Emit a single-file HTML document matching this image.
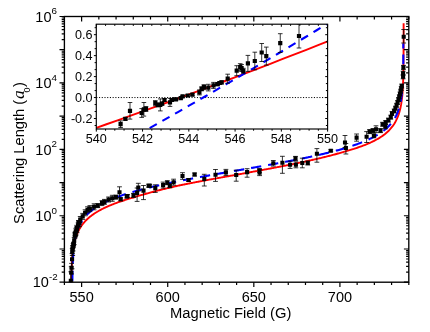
<!DOCTYPE html>
<html><head><meta charset="utf-8"><title>Scattering Length vs Magnetic Field</title>
<style>html,body{margin:0;padding:0;background:#fff;font-family:"Liberation Sans",sans-serif}</style></head>
<body>
<svg width="430" height="332" viewBox="0 0 430 332" style="display:block;will-change:transform">
<rect width="430" height="332" fill="#fff"/>
<defs><clipPath id="cm"><rect x="64.4" y="16.5" width="344.4" height="265.7"/></clipPath><clipPath id="ci"><rect x="96.3" y="24.2" width="231.3" height="104.8"/></clipPath></defs>
<g clip-path="url(#cm)" fill="none">
<path d="M71.22,291.93 L71.23,290.60 L71.25,289.28 L71.26,287.95 L71.27,286.62 L71.29,285.29 L71.30,283.96 L71.32,282.63 L71.34,281.30 L71.36,279.97 L71.39,278.64 L71.42,277.31 L71.44,275.98 L71.48,274.65 L71.51,273.32 L71.55,271.99 L71.59,270.66 L71.64,269.33 L71.69,268.00 L71.74,266.67 L71.80,265.34 L71.87,264.01 L71.94,262.68 L71.95,262.55 L72.02,261.35 L72.11,260.01 L72.20,258.68 L72.31,257.35 L72.42,256.02 L72.55,254.68 L72.69,253.35 L72.78,252.52 L73.61,246.64 L74.44,242.45 L75.27,239.20 L76.10,236.54 L76.94,234.28 L77.77,232.32 L78.60,230.59 L79.43,229.03 L80.26,227.62 L81.09,226.33 L81.92,225.14 L82.75,224.04 L83.59,223.01 L84.42,222.04 L85.25,221.13 L86.08,220.27 L86.91,219.46 L87.74,218.68 L88.57,217.94 L89.40,217.24 L90.24,216.56 L91.07,215.91 L91.90,215.28 L92.73,214.68 L93.56,214.10 L94.39,213.54 L95.22,213.00 L96.05,212.47 L96.89,211.96 L97.72,211.47 L98.55,210.99 L99.38,210.52 L100.21,210.06 L101.04,209.62 L101.87,209.19 L102.71,208.76 L103.54,208.35 L104.37,207.95 L105.20,207.55 L106.03,207.17 L106.86,206.79 L107.69,206.42 L108.52,206.06 L109.36,205.70 L110.19,205.36 L111.02,205.01 L111.85,204.68 L112.68,204.35 L113.51,204.02 L114.34,203.70 L115.17,203.39 L116.01,203.08 L116.84,202.78 L117.67,202.48 L118.50,202.18 L119.33,201.89 L120.16,201.60 L120.99,201.32 L121.82,201.04 L122.66,200.77 L123.49,200.50 L124.32,200.23 L125.15,199.96 L125.98,199.70 L126.81,199.45 L127.64,199.19 L128.48,198.94 L129.31,198.69 L130.14,198.44 L130.97,198.20 L131.80,197.96 L132.63,197.72 L133.46,197.48 L134.29,197.22 L135.13,196.96 L135.96,196.70 L136.79,196.44 L137.62,196.19 L138.45,195.94 L139.28,195.69 L140.11,195.44 L140.94,195.20 L141.78,194.96 L142.61,194.72 L143.44,194.48 L144.27,194.24 L145.10,194.01 L145.93,193.77 L146.76,193.54 L147.60,193.31 L148.43,193.08 L149.26,192.85 L150.09,192.63 L150.92,192.40 L151.75,192.18 L152.58,191.96 L153.41,191.74 L154.25,191.52 L155.08,191.30 L155.91,191.09 L156.74,190.87 L157.57,190.66 L158.40,190.45 L159.23,190.24 L160.06,190.03 L160.90,189.82 L161.73,189.61 L162.56,189.40 L163.39,189.20 L164.22,188.99 L165.05,188.79 L165.88,188.59 L166.71,188.39 L167.55,188.19 L168.38,187.99 L169.21,187.79 L170.04,187.59 L170.87,187.39 L171.70,187.20 L172.53,187.00 L173.37,186.81 L174.20,186.61 L175.03,186.42 L175.86,186.23 L176.69,186.04 L177.52,185.85 L178.35,185.66 L179.18,185.47 L180.02,185.29 L180.85,185.12 L181.68,184.95 L182.51,184.78 L183.34,184.62 L184.17,184.45 L185.00,184.28 L185.83,184.12 L186.67,183.96 L187.50,183.79 L188.33,183.63 L189.16,183.47 L189.99,183.30 L190.82,183.14 L191.65,182.98 L192.48,182.82 L193.32,182.66 L194.15,182.50 L194.98,182.34 L195.81,182.18 L196.64,182.02 L197.47,181.86 L198.30,181.71 L199.14,181.55 L199.97,181.39 L200.80,181.24 L201.63,181.08 L202.46,180.92 L203.29,180.77 L204.12,180.61 L204.95,180.46 L205.79,180.30 L206.62,180.15 L207.45,179.99 L208.28,179.84 L209.11,179.69 L209.94,179.53 L210.77,179.38 L211.60,179.23 L212.44,179.08 L213.27,178.92 L214.10,178.77 L214.93,178.62 L215.76,178.47 L216.59,178.32 L217.42,178.16 L218.26,178.01 L219.09,177.86 L219.92,177.71 L220.75,177.56 L221.58,177.41 L222.41,177.26 L223.24,177.11 L224.07,176.96 L224.91,176.81 L225.74,176.66 L226.57,176.51 L227.40,176.36 L228.23,176.21 L229.06,176.06 L229.89,175.91 L230.72,175.76 L231.56,175.61 L232.39,175.46 L233.22,175.31 L234.05,175.17 L234.88,175.02 L235.71,174.87 L236.54,174.72 L237.37,174.57 L238.21,174.42 L239.04,174.26 L239.87,174.11 L240.70,173.96 L241.53,173.81 L242.36,173.66 L243.19,173.51 L244.03,173.36 L244.86,173.21 L245.69,173.05 L246.52,172.90 L247.35,172.75 L248.18,172.60 L249.01,172.45 L249.84,172.30 L250.68,172.14 L251.51,171.99 L252.34,171.84 L253.17,171.69 L254.00,171.54 L254.83,171.38 L255.66,171.23 L256.49,171.08 L257.33,170.92 L258.16,170.77 L258.99,170.62 L259.82,170.46 L260.65,170.31 L261.48,170.16 L262.31,170.00 L263.15,169.85 L263.98,169.69 L264.81,169.54 L265.64,169.38 L266.47,169.23 L267.30,169.07 L268.13,168.92 L268.96,168.76 L269.80,168.60 L270.63,168.45 L271.46,168.29 L272.29,168.13 L273.12,167.97 L273.95,167.82 L274.78,167.66 L275.61,167.50 L276.45,167.34 L277.28,167.18 L278.11,167.02 L278.94,166.86 L279.77,166.70 L280.60,166.54 L281.43,166.38 L282.26,166.21 L283.10,166.05 L283.93,165.89 L284.76,165.72 L285.59,165.56 L286.42,165.40 L287.25,165.23 L288.08,165.07 L288.92,164.90 L289.75,164.73 L290.58,164.57 L291.41,164.40 L292.24,164.23 L293.07,164.06 L293.90,163.89 L294.73,163.72 L295.57,163.55 L296.40,163.38 L297.23,163.21 L298.06,163.04 L298.89,162.86 L299.72,162.69 L300.55,162.51 L301.38,162.34 L302.22,162.16 L303.05,161.98 L303.88,161.81 L304.71,161.63 L305.54,161.45 L306.37,161.27 L307.20,161.09 L308.03,160.90 L308.87,160.72 L309.70,160.54 L310.53,160.35 L311.36,160.17 L312.19,159.98 L313.02,159.79 L313.85,159.60 L314.69,159.41 L315.52,159.22 L316.35,159.03 L317.18,158.83 L318.01,158.64 L318.84,158.44 L319.67,158.25 L320.50,158.05 L321.34,157.85 L322.17,157.65 L323.00,157.45 L323.83,157.24 L324.66,157.04 L325.49,156.83 L326.32,156.62 L327.15,156.41 L327.99,156.20 L328.82,155.99 L329.65,155.78 L330.48,155.56 L331.31,155.34 L332.14,155.12 L332.97,154.90 L333.81,154.68 L334.64,154.46 L335.47,154.23 L336.30,154.00 L337.13,153.77 L337.96,153.54 L338.79,153.30 L339.62,153.06 L340.46,152.82 L341.29,152.58 L342.12,152.34 L342.95,152.09 L343.78,151.84 L344.61,151.59 L345.44,151.33 L346.27,151.08 L347.11,150.83 L347.94,150.59 L348.77,150.35 L349.60,150.11 L350.43,149.87 L351.26,149.62 L352.09,149.37 L352.92,149.11 L353.76,148.86 L354.59,148.59 L355.42,148.33 L356.25,148.06 L357.08,147.78 L357.91,147.50 L358.74,147.22 L359.58,146.93 L360.41,146.64 L361.24,146.34 L362.07,146.04 L362.90,145.73 L363.73,145.41 L364.56,145.09 L365.39,144.76 L366.23,144.43 L367.06,144.08 L367.89,143.74 L368.72,143.38 L369.55,143.01 L370.38,142.64 L371.21,142.26 L372.04,141.87 L372.88,141.47 L373.71,141.06 L374.54,140.63 L375.37,140.20 L376.20,139.75 L377.03,139.29 L377.86,138.82 L378.69,138.33 L379.53,137.83 L380.36,137.31 L381.19,136.77 L382.02,136.21 L382.85,135.63 L383.68,135.02 L384.51,134.39 L385.35,133.73 L386.18,133.02 L387.01,132.29 L387.84,131.52 L388.67,130.71 L389.50,129.85 L390.33,128.95 L391.16,127.99 L392.00,126.96 L392.83,125.86 L393.66,124.68 L394.49,123.40 L395.32,121.99 L396.15,120.44 L396.98,118.71 L397.81,116.76 L398.65,114.51 L399.48,111.85 L400.31,108.60 L401.14,104.42 L401.97,98.54 L402.06,97.72 L402.20,96.38 L402.33,95.05 L402.44,93.72 L402.55,92.39 L402.64,91.06 L402.73,89.72 L402.80,88.52 L402.81,88.39 L402.88,87.06 L402.95,85.73 L403.01,84.40 L403.06,83.07 L403.11,81.74 L403.16,80.41 L403.20,79.08 L403.24,77.75 L403.27,76.42 L403.31,75.09 L403.33,73.76 L403.36,72.43 L403.39,71.10 L403.41,69.77 L403.43,68.44 L403.45,67.11 L403.46,65.79 L403.48,64.46 L403.49,63.13 L403.50,61.80 L403.51,60.47 L403.53,59.14 L403.53,57.81 L403.54,56.48 L403.55,55.15 L403.56,53.83 L403.57,52.50 L403.57,51.17 L403.58,49.84 L403.58,48.51 L403.59,47.18 L403.59,45.85 L403.59,44.53 L403.60,43.20 L403.60,41.87 L403.60,40.54 L403.61,39.21 L403.61,37.88 L403.61,36.55 L403.61,35.22 L403.62,33.90 L403.62,32.57 L403.62,31.24 L403.62,29.91 L403.62,28.58 L403.62,27.25 L403.62,25.93 L403.62,24.60 L403.62,23.27" stroke="#f00" stroke-width="1.9"/>
<path d="M72.31,291.39 L72.32,290.06 L72.33,288.73 L72.33,287.40 L72.34,286.07 L72.35,284.74 L72.37,283.41 L72.38,282.09 L72.39,280.76 L72.41,279.43 L72.42,278.10 L72.44,276.77 L72.46,275.44 L72.48,274.11 L72.51,272.78 L72.53,271.45 L72.56,270.12 L72.59,268.79 L72.63,267.46 L72.67,266.13 L72.71,264.80 L72.76,263.47 L72.81,262.14 L72.86,260.81 L72.92,259.48 L72.99,258.15 L73.06,256.81 L73.06,256.74 L73.14,255.48 L73.23,254.15 L73.32,252.82 L73.43,251.48 L73.54,250.15 L73.67,248.82 L73.81,247.48 L73.89,246.71 L74.72,240.83 L75.55,236.64 L76.38,233.39 L77.20,230.72 L78.03,228.46 L78.86,226.50 L79.69,224.76 L80.52,223.20 L81.34,221.79 L82.17,220.50 L83.00,219.31 L83.83,218.20 L84.66,217.17 L85.48,216.20 L86.31,215.29 L87.14,214.43 L87.97,213.61 L88.80,212.83 L89.62,212.09 L90.45,211.38 L91.28,210.70 L92.11,210.05 L92.94,209.42 L93.76,208.82 L94.59,208.24 L95.42,207.67 L96.25,207.13 L97.08,206.60 L97.91,206.09 L98.73,205.59 L99.56,205.11 L100.39,204.64 L101.22,204.18 L102.05,203.73 L102.87,203.30 L103.70,202.87 L104.53,202.46 L105.36,202.05 L106.19,201.66 L107.01,201.27 L107.84,200.89 L108.67,200.52 L109.50,200.15 L110.33,199.80 L111.15,199.45 L111.98,199.10 L112.81,198.76 L113.64,198.43 L114.47,198.10 L115.29,197.78 L116.12,197.46 L116.95,197.15 L117.78,196.85 L118.61,196.55 L119.44,196.25 L120.26,195.96 L121.09,195.67 L121.92,195.38 L122.75,195.10 L123.58,194.82 L124.40,194.55 L125.23,194.28 L126.06,194.01 L126.89,193.75 L127.72,193.49 L128.54,193.23 L129.37,192.98 L130.20,192.73 L131.03,192.48 L131.86,192.23 L132.68,191.99 L133.51,191.75 L134.34,191.51 L135.17,191.28 L136.00,191.04 L136.82,190.81 L137.65,190.58 L138.48,190.36 L139.31,190.13 L140.14,189.91 L140.96,189.69 L141.79,189.47 L142.62,189.26 L143.45,189.04 L144.28,188.83 L145.11,188.62 L145.93,188.41 L146.76,188.20 L147.59,187.99 L148.42,187.79 L149.25,187.59 L150.07,187.39 L150.90,187.19 L151.73,186.99 L152.56,186.79 L153.39,186.60 L154.21,186.40 L155.04,186.21 L155.87,186.02 L156.70,185.83 L157.53,185.64 L158.35,185.45 L159.18,185.26 L160.01,185.08 L160.84,184.89 L161.67,184.71 L162.49,184.53 L163.32,184.34 L164.15,184.16 L164.98,183.98 L165.81,183.81 L166.63,183.63 L167.46,183.45 L168.29,183.28 L169.12,183.10 L169.95,182.93 L170.78,182.76 L171.60,182.58 L172.43,182.41 L173.26,182.24 L174.09,182.07 L174.92,181.90 L175.74,181.73 L176.57,181.57 L177.40,181.40 L178.23,181.23 L179.06,181.07 L179.88,180.90 L180.71,180.74 L181.54,180.58 L182.37,180.41 L183.20,180.25 L184.02,180.09 L184.85,179.93 L185.68,179.77 L186.51,179.61 L187.34,179.45 L188.16,179.29 L188.99,179.13 L189.82,178.97 L190.65,178.82 L191.48,178.66 L192.30,178.50 L193.13,178.35 L193.96,178.19 L194.79,178.04 L195.62,177.88 L196.45,177.73 L197.27,177.58 L198.10,177.42 L198.93,177.27 L199.76,177.12 L200.59,176.97 L201.41,176.81 L202.24,176.66 L203.07,176.51 L203.90,176.36 L204.73,176.21 L205.55,176.06 L206.38,175.91 L207.21,175.76 L208.04,175.61 L208.87,175.46 L209.69,175.31 L210.52,175.17 L211.35,175.02 L212.18,174.87 L213.01,174.72 L213.83,174.57 L214.66,174.43 L215.49,174.28 L216.32,174.13 L217.15,173.99 L217.97,173.84 L218.80,173.69 L219.63,173.55 L220.46,173.40 L221.29,173.26 L222.12,173.11 L222.94,172.97 L223.77,172.82 L224.60,172.67 L225.43,172.53 L226.26,172.38 L227.08,172.24 L227.91,172.09 L228.74,171.95 L229.57,171.81 L230.40,171.66 L231.22,171.52 L232.05,171.37 L232.88,171.23 L233.71,171.08 L234.54,170.94 L235.36,170.79 L236.19,170.65 L237.02,170.51 L237.85,170.36 L238.68,170.22 L239.50,170.07 L240.33,169.93 L241.16,169.78 L241.99,169.64 L242.82,169.50 L243.64,169.35 L244.47,169.21 L245.30,169.06 L246.13,168.92 L246.96,168.77 L247.79,168.63 L248.61,168.48 L249.44,168.34 L250.27,168.19 L251.10,168.05 L251.93,167.90 L252.75,167.76 L253.58,167.61 L254.41,167.47 L255.24,167.32 L256.07,167.18 L256.89,167.03 L257.72,166.88 L258.55,166.74 L259.38,166.59 L260.21,166.44 L261.03,166.30 L261.86,166.15 L262.69,166.00 L263.52,165.85 L264.35,165.71 L265.17,165.56 L266.00,165.41 L266.83,165.26 L267.66,165.11 L268.49,164.96 L269.31,164.81 L270.14,164.66 L270.97,164.51 L271.80,164.36 L272.63,164.21 L273.46,164.06 L274.28,163.91 L275.11,163.76 L275.94,163.61 L276.77,163.45 L277.60,163.30 L278.42,163.15 L279.25,162.99 L280.08,162.84 L280.91,162.69 L281.74,162.53 L282.56,162.37 L283.39,162.22 L284.22,162.06 L285.05,161.91 L285.88,161.75 L286.70,161.59 L287.53,161.43 L288.36,161.27 L289.19,161.11 L290.02,160.95 L290.84,160.79 L291.67,160.63 L292.50,160.47 L293.33,160.31 L294.16,160.15 L294.98,159.98 L295.81,159.82 L296.64,159.65 L297.47,159.49 L298.30,159.32 L299.13,159.16 L299.95,158.99 L300.78,158.82 L301.61,158.65 L302.44,158.48 L303.27,158.31 L304.09,158.14 L304.92,157.97 L305.75,157.80 L306.58,157.62 L307.41,157.45 L308.23,157.27 L309.06,157.09 L309.89,156.92 L310.72,156.74 L311.55,156.56 L312.37,156.38 L313.20,156.20 L314.03,156.02 L314.86,155.83 L315.69,155.65 L316.51,155.46 L317.34,155.27 L318.17,155.09 L319.00,154.90 L319.83,154.71 L320.66,154.52 L321.48,154.32 L322.31,154.13 L323.14,153.93 L323.97,153.74 L324.80,153.54 L325.62,153.34 L326.45,153.14 L327.28,152.93 L328.11,152.73 L328.94,152.52 L329.76,152.32 L330.59,152.11 L331.42,151.89 L332.25,151.68 L333.08,151.47 L333.90,151.25 L334.73,151.03 L335.56,150.81 L336.39,150.59 L337.22,150.37 L338.04,150.14 L338.87,149.91 L339.70,149.68 L340.53,149.45 L341.36,149.21 L342.18,148.97 L343.01,148.73 L343.84,148.49 L344.67,148.24 L345.50,148.00 L346.33,147.74 L347.15,147.49 L347.98,147.23 L348.81,146.97 L349.64,146.71 L350.47,146.44 L351.29,146.17 L352.12,145.90 L352.95,145.62 L353.78,145.34 L354.61,145.06 L355.43,144.77 L356.26,144.48 L357.09,144.18 L357.92,143.88 L358.75,143.57 L359.57,143.26 L360.40,142.94 L361.23,142.62 L362.06,142.29 L362.89,141.96 L363.71,141.62 L364.54,141.28 L365.37,140.93 L366.20,140.57 L367.03,140.20 L367.85,139.83 L368.68,139.45 L369.51,139.07 L370.34,138.67 L371.17,138.26 L372.00,137.85 L372.82,137.42 L373.65,136.99 L374.48,136.54 L375.31,136.09 L376.14,135.62 L376.96,135.13 L377.79,134.64 L378.62,134.12 L379.45,133.60 L380.28,133.05 L381.10,132.49 L381.93,131.91 L382.76,131.30 L383.59,130.67 L384.42,130.02 L385.24,129.34 L386.07,128.63 L386.90,127.89 L387.73,127.11 L388.56,126.30 L389.38,125.43 L390.21,124.52 L391.04,123.55 L391.87,122.52 L392.70,121.41 L393.52,120.22 L394.35,118.93 L395.18,117.52 L396.01,115.96 L396.84,114.23 L397.67,112.26 L398.49,110.00 L399.32,107.34 L400.15,104.08 L400.98,99.90 L401.81,94.01 L401.89,93.24 L402.03,91.91 L402.16,90.57 L402.27,89.24 L402.38,87.91 L402.47,86.57 L402.56,85.24 L402.63,83.98 L402.64,83.91" stroke="#00f" stroke-width="2.1" stroke-dasharray="10.3,7.0" stroke-dashoffset="7.02"/>
<path d="M403.31,64.2V54.6M403.31,48.6V43.6" stroke="#00f" stroke-width="2.1"/>
<path d="M78.40,220.50V224.50M76.00,220.50h4.8M76.00,224.50h4.8 M80.20,216.50V222.50M77.80,216.50h4.8M77.80,222.50h4.8 M82.70,213.40V219.40M80.30,213.40h4.8M80.30,219.40h4.8 M85.10,209.80V215.80M82.70,209.80h4.8M82.70,215.80h4.8 M87.50,206.80V212.80M85.10,206.80h4.8M85.10,212.80h4.8 M89.90,205.60V211.60M87.50,205.60h4.8M87.50,211.60h4.8 M94.10,203.80V209.80M91.70,203.80h4.8M91.70,209.80h4.8 M97.80,203.60V207.60M95.40,203.60h4.8M95.40,207.60h4.8 M102.00,200.60V205.60M99.60,200.60h4.8M99.60,205.60h4.8 M104.40,199.40V204.40M102.00,199.40h4.8M102.00,204.40h4.8 M108.60,197.00V202.00M106.20,197.00h4.8M106.20,202.00h4.8 M112.30,195.30V201.30M109.90,195.30h4.8M109.90,201.30h4.8 M115.90,195.10V199.10M113.50,195.10h4.8M113.50,199.10h4.8 M119.50,186.80V197.70M117.10,186.80h4.8M117.10,197.70h4.8 M120.70,197.80V200.80M118.30,197.80h4.8M118.30,200.80h4.8 M126.80,195.00V198.00M124.40,195.00h4.8M124.40,198.00h4.8 M127.40,194.50V197.50M125.00,194.50h4.8M125.00,197.50h4.8 M133.50,193.40V197.40M131.10,193.40h4.8M131.10,197.40h4.8 M137.10,188.00V201.40M134.70,188.00h4.8M134.70,201.40h4.8 M138.30,183.30V191.00M135.90,183.30h4.8M135.90,191.00h4.8 M143.50,185.50V199.60M141.10,185.50h4.8M141.10,199.60h4.8 M148.70,184.20V187.20M146.30,184.20h4.8M146.30,187.20h4.8 M149.70,184.30V187.30M147.30,184.30h4.8M147.30,187.30h4.8 M155.30,184.80V192.40M152.90,184.80h4.8M152.90,192.40h4.8 M163.10,182.10V188.10M160.70,182.10h4.8M160.70,188.10h4.8 M167.30,180.70V184.70M164.90,180.70h4.8M164.90,184.70h4.8 M169.80,183.70V187.70M167.40,183.70h4.8M167.40,187.70h4.8 M173.60,179.20V185.20M171.20,179.20h4.8M171.20,185.20h4.8 M182.50,172.70V179.30M180.10,172.70h4.8M180.10,179.30h4.8 M188.60,178.50V181.50M186.20,178.50h4.8M186.20,181.50h4.8 M194.60,173.00V176.00M192.20,173.00h4.8M192.20,176.00h4.8 M204.30,174.30V186.00M201.90,174.30h4.8M201.90,186.00h4.8 M215.50,169.50V181.40M213.10,169.50h4.8M213.10,181.40h4.8 M225.90,169.40V175.40M223.50,169.40h4.8M223.50,175.40h4.8 M236.20,170.20V181.20M233.80,170.20h4.8M233.80,181.20h4.8 M247.10,168.70V177.20M244.70,168.70h4.8M244.70,177.20h4.8 M259.50,168.60V172.60M257.10,168.60h4.8M257.10,172.60h4.8 M259.60,169.60V175.60M257.20,169.60h4.8M257.20,175.60h4.8 M273.30,160.50V166.10M270.90,160.50h4.8M270.90,166.10h4.8 M282.40,156.30V173.30M280.00,156.30h4.8M280.00,173.30h4.8 M290.10,161.20V168.40M287.70,161.20h4.8M287.70,168.40h4.8 M295.50,156.40V160.40M293.10,156.40h4.8M293.10,160.40h4.8 M295.90,161.80V167.80M293.50,161.80h4.8M293.50,167.80h4.8 M302.30,158.20V167.80M299.90,158.20h4.8M299.90,167.80h4.8 M307.80,161.00V165.00M305.40,161.00h4.8M305.40,165.00h4.8 M316.90,148.60V162.20M314.50,148.60h4.8M314.50,162.20h4.8 M330.80,149.70V151.70M328.40,149.70h4.8M328.40,151.70h4.8 M345.00,135.50V147.50M342.60,135.50h4.8M342.60,147.50h4.8 M345.90,143.50V154.00M343.50,143.50h4.8M343.50,154.00h4.8 M356.60,134.00V141.20M354.20,134.00h4.8M354.20,141.20h4.8 M366.60,131.60V142.50M364.20,131.60h4.8M364.20,142.50h4.8 M369.60,129.60V133.60M367.20,129.60h4.8M367.20,133.60h4.8 M372.90,128.60V132.60M370.50,128.60h4.8M370.50,132.60h4.8 M373.90,133.80V137.80M371.50,133.80h4.8M371.50,137.80h4.8 M376.00,125.80V132.60M373.60,125.80h4.8M373.60,132.60h4.8 M380.50,128.60V132.60M378.10,128.60h4.8M378.10,132.60h4.8 M382.60,122.30V126.30M380.20,122.30h4.8M380.20,126.30h4.8 M385.30,124.80V128.80M382.90,124.80h4.8M382.90,128.80h4.8 M385.70,120.50V124.50M383.30,120.50h4.8M383.30,124.50h4.8 M388.40,118.10V122.10M386.00,118.10h4.8M386.00,122.10h4.8 M390.80,115.10V119.10M388.40,115.10h4.8M388.40,119.10h4.8 M392.00,111.50V115.50M389.60,111.50h4.8M389.60,115.50h4.8 M403.40,65.40V69.40M401.00,65.40h4.8M401.00,69.40h4.8 M403.10,71.20V75.20M400.70,71.20h4.8M400.70,75.20h4.8 M403.10,74.80V78.80M400.70,74.80h4.8M400.70,78.80h4.8 M403.70,29.50V43.00M401.30,29.50h4.8M401.30,43.00h4.8 M394.13,109.00V113.00M391.73,109.00h4.8M391.73,113.00h4.8 M395.42,106.20V110.20M393.02,106.20h4.8M393.02,110.20h4.8 M396.59,103.30V107.30M394.19,103.30h4.8M394.19,107.30h4.8 M397.59,100.50V104.50M395.19,100.50h4.8M395.19,104.50h4.8 M398.50,97.60V101.60M396.10,97.60h4.8M396.10,101.60h4.8 M399.29,94.80V98.80M396.89,94.80h4.8M396.89,98.80h4.8 M400.01,92.00V96.00M397.61,92.00h4.8M397.61,96.00h4.8 M400.66,89.20V93.20M398.26,89.20h4.8M398.26,93.20h4.8 M401.22,86.60V90.60M398.82,86.60h4.8M398.82,90.60h4.8 M401.75,84.00V88.00M399.35,84.00h4.8M399.35,88.00h4.8 M70.82,271.77V295.42M68.42,271.77h4.8M68.42,295.42h4.8 M71.20,266.74V282.04M68.80,266.74h4.8M68.80,282.04h4.8 M71.55,263.39V273.93M69.15,263.39h4.8M69.15,273.93h4.8 M72.08,253.51V268.76M69.68,253.51h4.8M69.68,268.76h4.8 M72.24,248.61V255.31M69.84,248.61h4.8M69.84,255.31h4.8 M72.41,246.04V253.14M70.01,246.04h4.8M70.01,253.14h4.8 M72.74,245.59V255.53M70.34,245.59h4.8M70.34,255.53h4.8 M73.13,243.66V250.93M70.73,243.66h4.8M70.73,250.93h4.8 M73.43,243.95V247.20M71.03,243.95h4.8M71.03,247.20h4.8 M73.58,242.83V245.81M71.18,242.83h4.8M71.18,245.81h4.8 M73.73,242.30V245.17M71.33,242.30h4.8M71.33,245.17h4.8 M74.18,237.43V244.44M71.78,237.43h4.8M71.78,244.44h4.8 M74.85,232.95V238.38M72.45,232.95h4.8M72.45,238.38h4.8 M75.11,232.07V235.41M72.71,232.07h4.8M72.71,235.41h4.8 M75.22,232.42V235.85M72.82,232.42h4.8M72.82,235.85h4.8 M75.34,234.18V236.88M72.94,234.18h4.8M72.94,236.88h4.8 M75.69,228.91V235.79M73.29,228.91h4.8M73.29,235.79h4.8 M76.20,227.85V234.94M73.80,227.85h4.8M73.80,234.94h4.8 M76.71,225.32V231.16M74.31,225.32h4.8M74.31,231.16h4.8 M77.06,226.32V232.68M74.66,226.32h4.8M74.66,232.68h4.8 M78.09,222.92V227.95M75.69,222.92h4.8M75.69,227.95h4.8 M79.49,220.88V226.58M77.09,220.88h4.8M77.09,226.58h4.8" stroke="#000" stroke-width="0.8" fill="none"/><path d="M76.35,220.45h4.1v4.1h-4.1z M78.15,217.45h4.1v4.1h-4.1z M80.65,214.35h4.1v4.1h-4.1z M83.05,210.75h4.1v4.1h-4.1z M85.45,207.75h4.1v4.1h-4.1z M87.85,206.55h4.1v4.1h-4.1z M92.05,204.75h4.1v4.1h-4.1z M95.75,203.55h4.1v4.1h-4.1z M99.95,201.05h4.1v4.1h-4.1z M102.35,199.85h4.1v4.1h-4.1z M106.55,197.45h4.1v4.1h-4.1z M110.25,196.25h4.1v4.1h-4.1z M113.85,195.05h4.1v4.1h-4.1z M117.45,190.25h4.1v4.1h-4.1z M118.65,197.25h4.1v4.1h-4.1z M124.75,194.45h4.1v4.1h-4.1z M125.35,193.95h4.1v4.1h-4.1z M131.45,193.35h4.1v4.1h-4.1z M135.05,190.95h4.1v4.1h-4.1z M136.25,185.45h4.1v4.1h-4.1z M141.45,188.55h4.1v4.1h-4.1z M146.65,183.65h4.1v4.1h-4.1z M147.65,183.75h4.1v4.1h-4.1z M153.25,186.05h4.1v4.1h-4.1z M161.05,183.05h4.1v4.1h-4.1z M165.25,180.65h4.1v4.1h-4.1z M167.75,183.65h4.1v4.1h-4.1z M171.55,180.15h4.1v4.1h-4.1z M180.45,173.95h4.1v4.1h-4.1z M186.55,177.95h4.1v4.1h-4.1z M192.55,172.45h4.1v4.1h-4.1z M202.25,176.95h4.1v4.1h-4.1z M213.45,172.65h4.1v4.1h-4.1z M223.85,170.35h4.1v4.1h-4.1z M234.15,172.95h4.1v4.1h-4.1z M245.05,170.05h4.1v4.1h-4.1z M257.45,168.55h4.1v4.1h-4.1z M257.55,170.55h4.1v4.1h-4.1z M271.25,161.25h4.1v4.1h-4.1z M280.35,160.65h4.1v4.1h-4.1z M288.05,162.75h4.1v4.1h-4.1z M293.45,156.35h4.1v4.1h-4.1z M293.85,162.75h4.1v4.1h-4.1z M300.25,160.95h4.1v4.1h-4.1z M305.75,160.95h4.1v4.1h-4.1z M314.85,151.75h4.1v4.1h-4.1z M328.75,148.65h4.1v4.1h-4.1z M342.95,140.45h4.1v4.1h-4.1z M343.85,145.95h4.1v4.1h-4.1z M354.55,135.55h4.1v4.1h-4.1z M364.55,134.65h4.1v4.1h-4.1z M367.55,129.55h4.1v4.1h-4.1z M370.85,128.55h4.1v4.1h-4.1z M371.85,133.75h4.1v4.1h-4.1z M373.95,127.15h4.1v4.1h-4.1z M378.45,128.55h4.1v4.1h-4.1z M380.55,122.25h4.1v4.1h-4.1z M383.25,124.75h4.1v4.1h-4.1z M383.65,120.45h4.1v4.1h-4.1z M386.35,118.05h4.1v4.1h-4.1z M388.75,115.05h4.1v4.1h-4.1z M389.95,111.45h4.1v4.1h-4.1z M401.35,65.35h4.1v4.1h-4.1z M401.05,71.15h4.1v4.1h-4.1z M401.05,74.75h4.1v4.1h-4.1z M401.65,34.75h4.1v4.1h-4.1z M392.08,108.95h4.1v4.1h-4.1z M393.37,106.15h4.1v4.1h-4.1z M394.54,103.25h4.1v4.1h-4.1z M395.54,100.45h4.1v4.1h-4.1z M396.45,97.55h4.1v4.1h-4.1z M397.24,94.75h4.1v4.1h-4.1z M397.96,91.95h4.1v4.1h-4.1z M398.61,89.15h4.1v4.1h-4.1z M399.17,86.55h4.1v4.1h-4.1z M399.70,83.95h4.1v4.1h-4.1z M68.77,278.69h4.1v4.1h-4.1z M69.15,270.40h4.1v4.1h-4.1z M69.50,265.67h4.1v4.1h-4.1z M70.03,257.16h4.1v4.1h-4.1z M70.19,249.52h4.1v4.1h-4.1z M70.36,247.10h4.1v4.1h-4.1z M70.69,247.67h4.1v4.1h-4.1z M71.08,244.79h4.1v4.1h-4.1z M71.38,243.44h4.1v4.1h-4.1z M71.53,242.19h4.1v4.1h-4.1z M71.68,241.61h4.1v4.1h-4.1z M72.13,238.46h4.1v4.1h-4.1z M72.80,233.36h4.1v4.1h-4.1z M73.06,231.60h4.1v4.1h-4.1z M73.17,231.98h4.1v4.1h-4.1z M73.29,233.42h4.1v4.1h-4.1z M73.64,229.89h4.1v4.1h-4.1z M74.15,228.91h4.1v4.1h-4.1z M74.66,225.90h4.1v4.1h-4.1z M75.01,227.10h4.1v4.1h-4.1z M76.04,223.17h4.1v4.1h-4.1z M77.44,221.40h4.1v4.1h-4.1z" fill="#000" stroke="none"/>
</g>
<rect x="96.3" y="24.2" width="231.3" height="104.8" fill="#fff"/>
<g clip-path="url(#ci)" fill="none">
<line x1="96.3" x2="327.6" y1="97.56" y2="97.56" stroke="#000" stroke-width="1" stroke-dasharray="1.1,1.62"/>
<path d="M93.99,128.66 L105.78,124.50 L117.58,120.32 L129.38,116.11 L141.17,111.88 L152.97,107.62 L164.76,103.33 L176.56,99.02 L188.36,94.67 L200.15,90.31 L211.95,85.91 L223.75,81.49 L235.54,77.04 L247.34,72.56 L259.14,68.06 L270.93,63.53 L282.73,58.98 L294.52,54.39 L306.32,49.78 L318.12,45.15 L329.91,40.49" stroke="#f00" stroke-width="1.9"/>
<path d="M119.43,145.03 L124.75,142.07 L130.07,139.10 L135.39,136.12 L140.71,133.13 L146.03,130.14 L151.35,127.14 L156.67,124.14 L161.99,121.12 L167.31,118.10 L172.63,115.08 L177.95,112.04 L183.27,109.00 L188.59,105.95 L193.91,102.89 L199.23,99.83 L204.55,96.76 L209.87,93.68 L215.19,90.59 L220.51,87.50 L225.83,84.40 L231.15,81.29 L236.47,78.18 L241.79,75.05 L247.11,71.92 L252.43,68.78 L257.75,65.64 L263.07,62.48 L268.39,59.32 L273.71,56.15 L279.03,52.98 L284.35,49.79 L289.67,46.60 L294.99,43.40 L300.31,40.19 L305.63,36.98 L310.95,33.75 L316.27,30.52 L321.59,27.28 L326.91,24.04 L332.23,20.78" stroke="#00f" stroke-width="2.1" stroke-dasharray="8.2,6.4" stroke-dashoffset="9.11"/>
<path d="M120.60,120.90V127.50M118.30,120.90h4.6M118.30,127.50h4.6 M125.40,117.60V120.00M123.10,117.60h4.6M123.10,120.00h4.6 M130.00,102.50V119.10M127.70,102.50h4.6M127.70,119.10h4.6 M141.70,108.60V117.40M139.40,108.60h4.6M139.40,117.40h4.6 M143.90,102.50V116.10M141.60,102.50h4.6M141.60,116.10h4.6 M146.00,106.50V111.50M143.70,106.50h4.6M143.70,111.50h4.6 M155.30,100.60V105.80M153.00,100.60h4.6M153.00,105.80h4.6 M157.90,102.90V106.90M155.60,102.90h4.6M155.60,106.90h4.6 M160.30,98.90V110.90M158.00,98.90h4.6M158.00,110.90h4.6 M162.10,102.10V105.10M159.80,102.10h4.6M159.80,105.10h4.6 M164.50,98.50V101.50M162.20,98.50h4.6M162.20,101.50h4.6 M170.00,98.40V106.40M167.70,98.40h4.6M167.70,106.40h4.6 M171.80,98.50V101.50M169.50,98.50h4.6M169.50,101.50h4.6 M174.20,98.30V100.30M171.90,98.30h4.6M171.90,100.30h4.6 M176.00,98.30V100.30M173.70,98.30h4.6M173.70,100.30h4.6 M180.80,97.10V99.10M178.50,97.10h4.6M178.50,99.10h4.6 M182.60,95.40V97.40M180.30,95.40h4.6M180.30,97.40h4.6 M187.70,94.50V96.50M185.40,94.50h4.6M185.40,96.50h4.6 M192.40,93.70V95.70M190.10,93.70h4.6M190.10,95.70h4.6 M199.40,89.90V94.90M197.10,89.90h4.6M197.10,94.90h4.6 M201.60,86.80V90.80M199.30,86.80h4.6M199.30,90.80h4.6 M203.90,84.70V89.70M201.60,84.70h4.6M201.60,89.70h4.6 M208.30,84.30V90.90M206.00,84.30h4.6M206.00,90.90h4.6 M213.50,82.40V88.40M211.20,82.40h4.6M211.20,88.40h4.6 M217.60,82.70V85.70M215.30,82.70h4.6M215.30,85.70h4.6 M219.60,81.50V84.50M217.30,81.50h4.6M217.30,84.50h4.6 M221.60,80.90V83.90M219.30,80.90h4.6M219.30,83.90h4.6 M227.70,74.20V83.20M225.40,74.20h4.6M225.40,83.20h4.6 M236.70,65.70V75.70M234.40,65.70h4.6M234.40,75.70h4.6 M240.20,63.70V70.70M237.90,63.70h4.6M237.90,70.70h4.6 M241.60,64.50V71.50M239.30,64.50h4.6M239.30,71.50h4.6 M243.30,68.30V73.30M241.00,68.30h4.6M241.00,73.30h4.6 M247.90,55.40V71.40M245.60,55.40h4.6M245.60,71.40h4.6 M254.80,52.20V69.80M252.50,52.20h4.6M252.50,69.80h4.6 M261.70,43.50V61.50M259.40,43.50h4.6M259.40,61.50h4.6 M266.30,47.10V65.10M264.00,47.10h4.6M264.00,65.10h4.6 M280.25,33.70V52.50M277.95,33.70h4.6M277.95,52.50h4.6 M299.00,24.00V48.00M296.70,24.00h4.6M296.70,48.00h4.6" stroke="#000" stroke-width="0.8" fill="none"/><path d="M118.50,122.10h4.2v4.2h-4.2z M123.30,116.70h4.2v4.2h-4.2z M127.90,108.70h4.2v4.2h-4.2z M139.60,110.90h4.2v4.2h-4.2z M141.80,107.20h4.2v4.2h-4.2z M143.90,106.90h4.2v4.2h-4.2z M153.20,101.10h4.2v4.2h-4.2z M155.80,102.80h4.2v4.2h-4.2z M158.20,102.80h4.2v4.2h-4.2z M160.00,101.50h4.2v4.2h-4.2z M162.40,97.90h4.2v4.2h-4.2z M167.90,100.30h4.2v4.2h-4.2z M169.70,97.90h4.2v4.2h-4.2z M172.10,97.20h4.2v4.2h-4.2z M173.90,97.20h4.2v4.2h-4.2z M178.70,96.00h4.2v4.2h-4.2z M180.50,94.30h4.2v4.2h-4.2z M185.60,93.40h4.2v4.2h-4.2z M190.30,92.60h4.2v4.2h-4.2z M197.30,90.30h4.2v4.2h-4.2z M199.50,86.70h4.2v4.2h-4.2z M201.80,85.10h4.2v4.2h-4.2z M206.20,85.50h4.2v4.2h-4.2z M211.40,83.30h4.2v4.2h-4.2z M215.50,82.10h4.2v4.2h-4.2z M217.50,80.90h4.2v4.2h-4.2z M219.50,80.30h4.2v4.2h-4.2z M225.60,76.60h4.2v4.2h-4.2z M234.60,68.60h4.2v4.2h-4.2z M238.10,65.10h4.2v4.2h-4.2z M239.50,65.90h4.2v4.2h-4.2z M241.20,68.70h4.2v4.2h-4.2z M245.80,61.30h4.2v4.2h-4.2z M252.70,58.90h4.2v4.2h-4.2z M259.60,50.40h4.2v4.2h-4.2z M264.20,54.00h4.2v4.2h-4.2z M278.15,41.00h4.2v4.2h-4.2z M296.90,33.90h4.2v4.2h-4.2z" fill="#000" stroke="none"/>
</g>
<rect x="64.4" y="16.5" width="344.4" height="265.7" fill="none" stroke="#000" stroke-width="1.35"/>
<rect x="96.3" y="24.2" width="231.3" height="104.8" fill="none" stroke="#000" stroke-width="1.15"/>
<path d="M64.40,282.2 v2.7 M64.40,16.5 v3.0 M81.62,282.2 v4.8 M81.62,16.5 v5.1 M98.84,282.2 v2.7 M98.84,16.5 v3.0 M116.06,282.2 v2.7 M116.06,16.5 v3.0 M133.28,282.2 v2.7 M133.28,16.5 v3.0 M150.50,282.2 v2.7 M150.50,16.5 v3.0 M167.72,282.2 v4.8 M167.72,16.5 v5.1 M184.94,282.2 v2.7 M184.94,16.5 v3.0 M202.16,282.2 v2.7 M202.16,16.5 v3.0 M219.38,282.2 v2.7 M219.38,16.5 v3.0 M236.60,282.2 v2.7 M236.60,16.5 v3.0 M253.82,282.2 v4.8 M253.82,16.5 v5.1 M271.04,282.2 v2.7 M271.04,16.5 v3.0 M288.26,282.2 v2.7 M288.26,16.5 v3.0 M305.48,282.2 v2.7 M305.48,16.5 v3.0 M322.70,282.2 v2.7 M322.70,16.5 v3.0 M339.92,282.2 v4.8 M339.92,16.5 v5.1 M357.14,282.2 v2.7 M357.14,16.5 v3.0 M374.36,282.2 v2.7 M374.36,16.5 v3.0 M391.58,282.2 v2.7 M391.58,16.5 v3.0 M408.80,282.2 v2.7 M408.80,16.5 v3.0 M64.4,282.20 h-4.9 M408.8,282.20 h-4.9 M64.4,272.20 h-2.7 M408.8,272.20 h-2.7 M64.4,266.35 h-2.7 M408.8,266.35 h-2.7 M64.4,262.20 h-2.7 M408.8,262.20 h-2.7 M64.4,258.99 h-2.7 M408.8,258.99 h-2.7 M64.4,256.36 h-2.7 M408.8,256.36 h-2.7 M64.4,254.13 h-2.7 M408.8,254.13 h-2.7 M64.4,252.21 h-2.7 M408.8,252.21 h-2.7 M64.4,250.51 h-2.7 M408.8,250.51 h-2.7 M64.4,248.99 h-4.9 M408.8,248.99 h-4.9 M64.4,238.99 h-2.7 M408.8,238.99 h-2.7 M64.4,233.14 h-2.7 M408.8,233.14 h-2.7 M64.4,228.99 h-2.7 M408.8,228.99 h-2.7 M64.4,225.77 h-2.7 M408.8,225.77 h-2.7 M64.4,223.14 h-2.7 M408.8,223.14 h-2.7 M64.4,220.92 h-2.7 M408.8,220.92 h-2.7 M64.4,218.99 h-2.7 M408.8,218.99 h-2.7 M64.4,217.29 h-2.7 M408.8,217.29 h-2.7 M64.4,215.77 h-4.9 M408.8,215.77 h-4.9 M64.4,205.78 h-2.7 M408.8,205.78 h-2.7 M64.4,199.93 h-2.7 M408.8,199.93 h-2.7 M64.4,195.78 h-2.7 M408.8,195.78 h-2.7 M64.4,192.56 h-2.7 M408.8,192.56 h-2.7 M64.4,189.93 h-2.7 M408.8,189.93 h-2.7 M64.4,187.71 h-2.7 M408.8,187.71 h-2.7 M64.4,185.78 h-2.7 M408.8,185.78 h-2.7 M64.4,184.08 h-2.7 M408.8,184.08 h-2.7 M64.4,182.56 h-4.9 M408.8,182.56 h-4.9 M64.4,172.56 h-2.7 M408.8,172.56 h-2.7 M64.4,166.72 h-2.7 M408.8,166.72 h-2.7 M64.4,162.57 h-2.7 M408.8,162.57 h-2.7 M64.4,159.35 h-2.7 M408.8,159.35 h-2.7 M64.4,156.72 h-2.7 M408.8,156.72 h-2.7 M64.4,154.49 h-2.7 M408.8,154.49 h-2.7 M64.4,152.57 h-2.7 M408.8,152.57 h-2.7 M64.4,150.87 h-2.7 M408.8,150.87 h-2.7 M64.4,149.35 h-4.9 M408.8,149.35 h-4.9 M64.4,139.35 h-2.7 M408.8,139.35 h-2.7 M64.4,133.50 h-2.7 M408.8,133.50 h-2.7 M64.4,129.35 h-2.7 M408.8,129.35 h-2.7 M64.4,126.14 h-2.7 M408.8,126.14 h-2.7 M64.4,123.51 h-2.7 M408.8,123.51 h-2.7 M64.4,121.28 h-2.7 M408.8,121.28 h-2.7 M64.4,119.36 h-2.7 M408.8,119.36 h-2.7 M64.4,117.66 h-2.7 M408.8,117.66 h-2.7 M64.4,116.14 h-4.9 M408.8,116.14 h-4.9 M64.4,106.14 h-2.7 M408.8,106.14 h-2.7 M64.4,100.29 h-2.7 M408.8,100.29 h-2.7 M64.4,96.14 h-2.7 M408.8,96.14 h-2.7 M64.4,92.92 h-2.7 M408.8,92.92 h-2.7 M64.4,90.29 h-2.7 M408.8,90.29 h-2.7 M64.4,88.07 h-2.7 M408.8,88.07 h-2.7 M64.4,86.14 h-2.7 M408.8,86.14 h-2.7 M64.4,84.44 h-2.7 M408.8,84.44 h-2.7 M64.4,82.92 h-4.9 M408.8,82.92 h-4.9 M64.4,72.93 h-2.7 M408.8,72.93 h-2.7 M64.4,67.08 h-2.7 M408.8,67.08 h-2.7 M64.4,62.93 h-2.7 M408.8,62.93 h-2.7 M64.4,59.71 h-2.7 M408.8,59.71 h-2.7 M64.4,57.08 h-2.7 M408.8,57.08 h-2.7 M64.4,54.86 h-2.7 M408.8,54.86 h-2.7 M64.4,52.93 h-2.7 M408.8,52.93 h-2.7 M64.4,51.23 h-2.7 M408.8,51.23 h-2.7 M64.4,49.71 h-4.9 M408.8,49.71 h-4.9 M64.4,39.71 h-2.7 M408.8,39.71 h-2.7 M64.4,33.87 h-2.7 M408.8,33.87 h-2.7 M64.4,29.72 h-2.7 M408.8,29.72 h-2.7 M64.4,26.50 h-2.7 M408.8,26.50 h-2.7 M64.4,23.87 h-2.7 M408.8,23.87 h-2.7 M64.4,21.64 h-2.7 M408.8,21.64 h-2.7 M64.4,19.72 h-2.7 M408.8,19.72 h-2.7 M64.4,18.02 h-2.7 M408.8,18.02 h-2.7 M64.4,16.50 h-4.9 M408.8,16.50 h-4.9" stroke="#000" stroke-width="1.2" fill="none"/>
<path d="M96.30,129.0 v2.6 M96.30,24.2 v2.6 M105.55,129.0 v1.7 M105.55,24.2 v1.7 M114.80,129.0 v1.7 M114.80,24.2 v1.7 M124.06,129.0 v1.7 M124.06,24.2 v1.7 M133.31,129.0 v1.7 M133.31,24.2 v1.7 M142.56,129.0 v2.6 M142.56,24.2 v2.6 M151.81,129.0 v1.7 M151.81,24.2 v1.7 M161.06,129.0 v1.7 M161.06,24.2 v1.7 M170.32,129.0 v1.7 M170.32,24.2 v1.7 M179.57,129.0 v1.7 M179.57,24.2 v1.7 M188.82,129.0 v2.6 M188.82,24.2 v2.6 M198.07,129.0 v1.7 M198.07,24.2 v1.7 M207.32,129.0 v1.7 M207.32,24.2 v1.7 M216.58,129.0 v1.7 M216.58,24.2 v1.7 M225.83,129.0 v1.7 M225.83,24.2 v1.7 M235.08,129.0 v2.6 M235.08,24.2 v2.6 M244.33,129.0 v1.7 M244.33,24.2 v1.7 M253.58,129.0 v1.7 M253.58,24.2 v1.7 M262.84,129.0 v1.7 M262.84,24.2 v1.7 M272.09,129.0 v1.7 M272.09,24.2 v1.7 M281.34,129.0 v2.6 M281.34,24.2 v2.6 M290.59,129.0 v1.7 M290.59,24.2 v1.7 M299.84,129.0 v1.7 M299.84,24.2 v1.7 M309.10,129.0 v1.7 M309.10,24.2 v1.7 M318.35,129.0 v1.7 M318.35,24.2 v1.7 M327.60,129.0 v2.6 M327.60,24.2 v2.6 M96.3,125.51 h-1.7 M327.6,125.51 h-1.7 M96.3,118.52 h-2.4 M327.6,118.52 h-2.4 M96.3,111.53 h-1.7 M327.6,111.53 h-1.7 M96.3,104.55 h-1.7 M327.6,104.55 h-1.7 M96.3,97.56 h-2.4 M327.6,97.56 h-2.4 M96.3,90.57 h-1.7 M327.6,90.57 h-1.7 M96.3,83.59 h-1.7 M327.6,83.59 h-1.7 M96.3,76.60 h-2.4 M327.6,76.60 h-2.4 M96.3,69.61 h-1.7 M327.6,69.61 h-1.7 M96.3,62.63 h-1.7 M327.6,62.63 h-1.7 M96.3,55.64 h-2.4 M327.6,55.64 h-2.4 M96.3,48.65 h-1.7 M327.6,48.65 h-1.7 M96.3,41.67 h-1.7 M327.6,41.67 h-1.7 M96.3,34.68 h-2.4 M327.6,34.68 h-2.4 M96.3,27.69 h-1.7 M327.6,27.69 h-1.7" stroke="#000" stroke-width="1" fill="none"/>
<g font-family="Liberation Sans, sans-serif" fill="#000">
<text x="81.62" y="302.2" font-size="14.5" text-anchor="middle">550</text>
<text x="167.72" y="302.2" font-size="14.5" text-anchor="middle">600</text>
<text x="253.82" y="302.2" font-size="14.5" text-anchor="middle">650</text>
<text x="339.92" y="302.2" font-size="14.5" text-anchor="middle">700</text>
<text x="230.7" y="317.8" font-size="14.75" text-anchor="middle">Magnetic Field (G)</text>
<text x="48.9" y="287.40" font-size="14.5" text-anchor="end">10</text>
<text x="48.9" y="280.10" font-size="9.8" text-anchor="start">-2</text>
<text x="51.5" y="220.97" font-size="14.5" text-anchor="end">10</text>
<text x="51.5" y="213.67" font-size="9.8" text-anchor="start">0</text>
<text x="51.5" y="154.55" font-size="14.5" text-anchor="end">10</text>
<text x="51.5" y="147.25" font-size="9.8" text-anchor="start">2</text>
<text x="51.5" y="88.12" font-size="14.5" text-anchor="end">10</text>
<text x="51.5" y="80.83" font-size="9.8" text-anchor="start">4</text>
<text x="51.5" y="21.70" font-size="14.5" text-anchor="end">10</text>
<text x="51.5" y="14.40" font-size="9.8" text-anchor="start">6</text>
<text x="96.30" y="143.2" font-size="12.6" text-anchor="middle">540</text>
<text x="142.56" y="143.2" font-size="12.6" text-anchor="middle">542</text>
<text x="188.82" y="143.2" font-size="12.6" text-anchor="middle">544</text>
<text x="235.08" y="143.2" font-size="12.6" text-anchor="middle">546</text>
<text x="281.34" y="143.2" font-size="12.6" text-anchor="middle">548</text>
<text x="327.60" y="143.2" font-size="12.6" text-anchor="middle">550</text>
<text x="92.6" y="123.12" font-size="12.6" text-anchor="end">-0.2</text>
<text x="92.6" y="102.16" font-size="12.6" text-anchor="end">0.0</text>
<text x="92.6" y="81.20" font-size="12.6" text-anchor="end">0.2</text>
<text x="92.6" y="60.24" font-size="12.6" text-anchor="end">0.4</text>
<text x="92.6" y="39.28" font-size="12.6" text-anchor="end">0.6</text>
<text transform="translate(24.1,223.9) rotate(-90)" font-size="14.7">Scattering Length (<tspan x="124.9" font-family="Liberation Serif, serif" font-style="italic" font-size="17.5">a</tspan><tspan x="131.4" dy="5.4" font-size="9">0</tspan><tspan x="137.0" dy="-5.4">)</tspan></text>
</g>
</svg>
</body></html>
